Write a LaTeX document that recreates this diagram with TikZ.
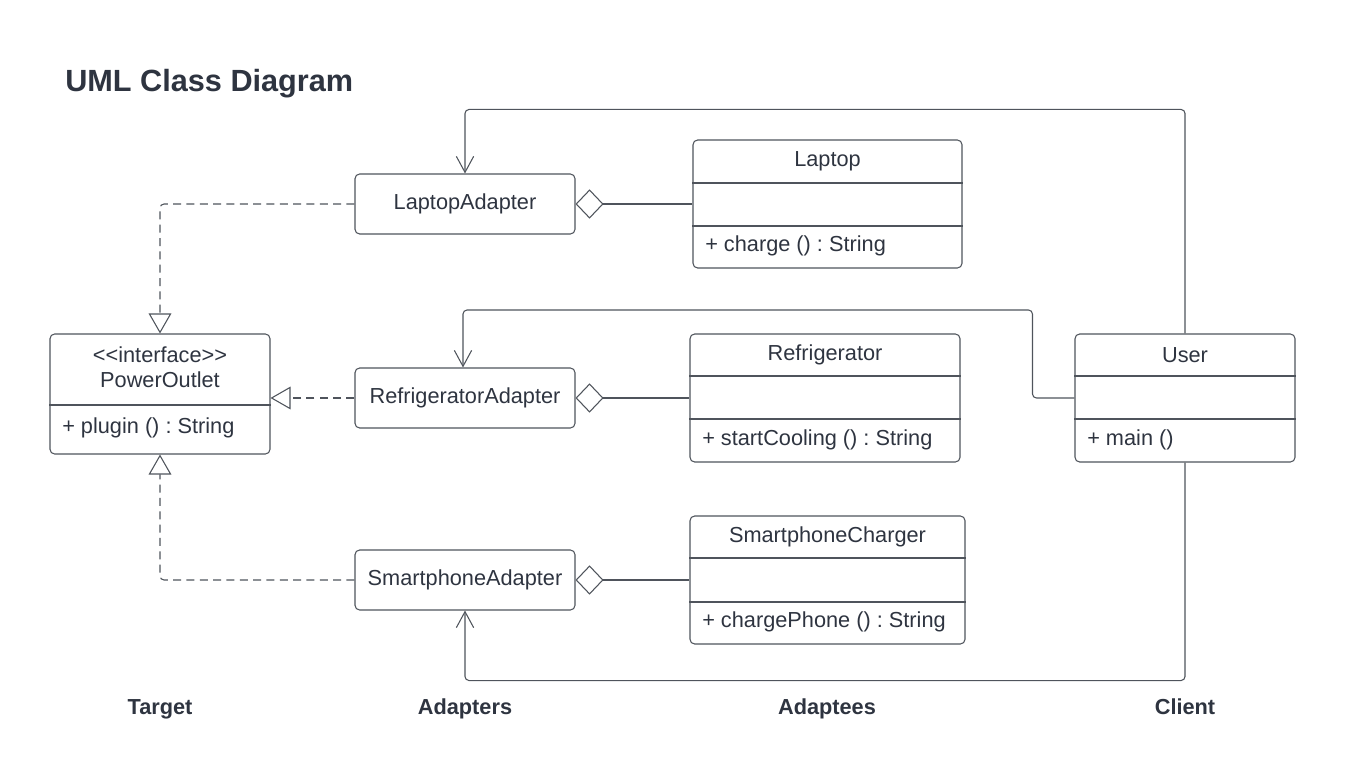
\documentclass[tikz,border=0pt]{standalone}
\usepackage{fontspec}
\setmainfont{Liberation Sans}
\usepackage{tikz}
\usetikzlibrary{arrows.meta,positioning,calc}
\definecolor{ink}{HTML}{2E3440}
\definecolor{wire}{HTML}{4F545C}

\begin{document}
\begin{tikzpicture}[
    x=0.75pt, y=-0.75pt,
    adapter/.style={rectangle, draw=wire, line width=0.8pt, rounded corners=3.5pt, minimum width=165pt, minimum height=45pt, text=ink, font=\fontsize{16.3}{19}\selectfont\frenchspacing},
    classbox/.style={rectangle, draw=wire, line width=0.8pt, rounded corners=3.5pt, minimum height=96pt},
    member/.style={text=ink, inner sep=0pt, font=\fontsize{16.3}{19}\selectfont\frenchspacing},
    divider/.style={draw=wire, line width=0.8pt},
    layername/.style={text=ink, inner sep=0pt, anchor=base, font=\fontsize{16.3}{19}\selectfont\bfseries},
    realize/.style={draw=wire, line width=0.8pt, dash pattern=on 6pt off 4pt, rounded corners=3pt, -{Triangle[open, length=15pt, width=17pt]}},
    aggr/.style={draw=wire, line width=0.8pt, {Diamond[open, length=21pt, width=22pt]}-},
    assoc/.style={draw=wire, line width=0.8pt, rounded corners=3pt, -{Straight Barb[length=12pt, width=13pt]}}
]
\useasboundingbox (0,0) rectangle (1345,780);

\node[anchor=west, inner sep=0pt, text=ink, font=\fontsize{23}{27}\selectfont\bfseries] (title) at (65,84) {UML Class Diagram};

% Target
\node[classbox, minimum width=165pt, minimum height=90pt] (outlet) at (160,394) {};
\node[member] (outletstereo) at (160,355) {<{}<interface>{}>};
\node[member, below=6.5pt of outletstereo] (outletname) {PowerOutlet};
\draw[divider] (outlet.west |- 0,405) -- (outlet.east |- 0,405);
\node[member, anchor=west] (outletop) at (62,428) {+ plugin () : String};

% Adapters
\node[adapter] (laptopad) at (465,204) {LaptopAdapter};
\node[adapter] (fridgead) at (465,398) {RefrigeratorAdapter};
\node[adapter] (phonead) at (465,580) {SmartphoneAdapter};

% Adaptees
\node[classbox, minimum width=201.75pt] (laptop) at (827.5,204) {};
\node[member] (laptopname) at (827.5,161) {Laptop};
\draw[divider] (laptop.west |- 0,183) -- (laptop.east |- 0,183);
\draw[divider] (laptop.west |- 0,226) -- (laptop.east |- 0,226);
\node[member, anchor=west] (laptopop) at (705,245.5) {+ charge () : String};

\node[classbox, minimum width=202.5pt] (fridge) at (825,398) {};
\node[member] (fridgename) at (825,355) {Refrigerator};
\draw[divider] (fridge.west |- 0,376) -- (fridge.east |- 0,376);
\draw[divider] (fridge.west |- 0,419) -- (fridge.east |- 0,419);
\node[member, anchor=west] (fridgeop) at (702,439.5) {+ startCooling () : String};

\node[classbox, minimum width=206.25pt] (charger) at (827.5,580) {};
\node[member] (chargername) at (827.5,537) {SmartphoneCharger};
\draw[divider] (charger.west |- 0,558) -- (charger.east |- 0,558);
\draw[divider] (charger.west |- 0,602) -- (charger.east |- 0,602);
\node[member, anchor=west] (chargerop) at (702,621.5) {+ chargePhone () : String};

% Client
\node[classbox, minimum width=165pt] (user) at (1185,398) {};
\node[member] (username) at (1185,355) {User};
\draw[divider] (user.west |- 0,376) -- (user.east |- 0,376);
\draw[divider] (user.west |- 0,419) -- (user.east |- 0,419);
\node[member, anchor=west] (userop) at (1087,439.5) {+ main ()};

% Realizations
\draw[realize] (laptopad.west) -| (outlet.north);
\draw[realize] (fridgead.west) -- (fridgead.west -| outlet.east);
\draw[realize] (phonead.west) -| (outlet.south);

% Aggregations
\draw[aggr] (laptopad.east) -- (laptop.west);
\draw[aggr] (fridgead.east) -- (fridge.west);
\draw[aggr] (phonead.east) -- (charger.west);

% Associations from the client
\draw[assoc] (user.north) -- ++(0,-224) -| (laptopad.north);
\draw[assoc] (user.west) -- ++(-42,0) -- ++(0,-88) -| ([xshift=-1.5pt]fridgead.north);
\draw[assoc] (user.south) -- ++(0,218) -| (phonead.south);

% Layer names
\node[layername] (targetname) at (160,714) {Target};
\node[layername] (adaptersname) at (465,714) {Adapters};
\node[layername] (adapteesname) at (827,714) {Adaptees};
\node[layername] (clientname) at (1185,714) {Client};

\end{tikzpicture}
\end{document}
